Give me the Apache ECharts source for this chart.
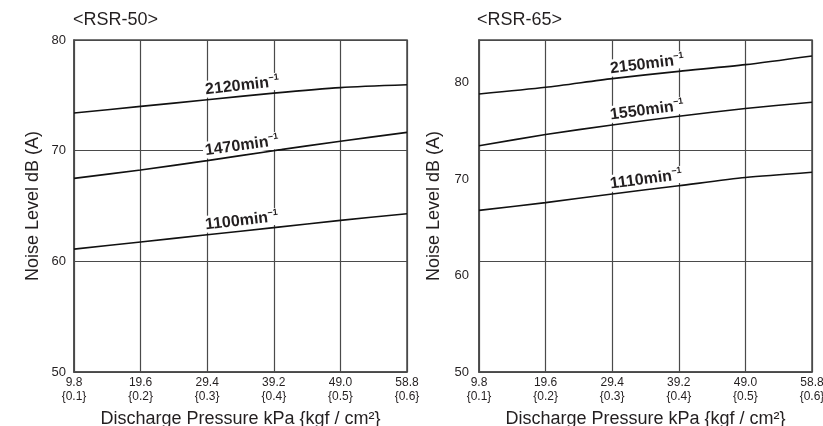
<!DOCTYPE html>
<html>
<head>
<meta charset="utf-8">
<script src="https://cdn.jsdelivr.net/npm/echarts@6/dist/echarts.min.js"></script>
<style>
html,body{margin:0;padding:0;background:#fff;}
#chart{width:823px;height:426px;}
</style>
</head>
<body>
<div id="chart"></div>
<script>
// ---- data ----
const pressureKpa = [9.8, 19.6, 29.4, 39.2, 49.0, 58.8];
const kpaLabels = ['9.8', '19.6', '29.4', '39.2', '49.0', '58.8'];
const kgfLabels = ['{0.1}', '{0.2}', '{0.3}', '{0.4}', '{0.5}', '{0.6}'];
const chartTitles = ['<RSR-50>', '<RSR-65>'];
const xAxisTitle = 'Discharge Pressure kPa {kgf / cm²}';
const yAxisTitle = 'Noise Level dB (A)';
const yTicks = [50, 60, 70, 80];

const rsr50Speeds = ['2120', '1470', '1100'];
const rsr50_2120 = [73.4, 74.0, 74.6, 75.2, 75.7, 75.95];
const rsr50_1470 = [67.5, 68.25, 69.1, 70.0, 70.85, 71.65];
const rsr50_1100 = [61.1, 61.75, 62.4, 63.05, 63.7, 64.3];

const rsr65Speeds = ['2150', '1550', '1110'];
const rsr65_2150 = [78.8, 79.5, 80.4, 81.15, 81.85, 82.75];
const rsr65_1550 = [73.45, 74.6, 75.6, 76.5, 77.3, 77.95];
const rsr65_1110 = [66.75, 67.55, 68.45, 69.3, 70.15, 70.7];

// ---- styling ----
const FONT = "'Liberation Sans', Arial, Helvetica, sans-serif";
const TXT = '#231f20';
const GRIDC = '#4a4a4a';

function xLabel(v) {
  const i = pressureKpa.findIndex(p => Math.abs(p - v) < 0.01);
  return i < 0 ? '' : kpaLabels[i] + '\n' + kgfLabels[i];
}

function makeSeries(values, speed, xi, yi, angle) {
  const data = values.map((v, i) => {
    const item = { value: [pressureKpa[i], v] };
    if (i === 2) {
      item.label = {
        show: true,
        position: 'top',
        align: 'left',
        verticalAlign: 'bottom',
        distance: 2,
        offset: [-3, 0],
        rotate: angle,
        backgroundColor: '#fff',
        padding: [0, 2, 0, 2],
        formatter: '{a|' + speed + 'min}{b|−1}',
        rich: {
          a: { fontFamily: FONT, fontSize: 16, fontWeight: 'bold', color: TXT, lineHeight: 17, verticalAlign: 'bottom' },
          b: { fontFamily: FONT, fontSize: 9, fontWeight: 'bold', color: TXT, lineHeight: 9, verticalAlign: 'top' }
        }
      };
    }
    return item;
  });
  return {
    type: 'line',
    xAxisIndex: xi,
    yAxisIndex: yi,
    data: data,
    smooth: 0.25,
    showSymbol: true,
    symbolSize: 0,
    silent: true,
    lineStyle: { color: '#111', width: 1.6 },
    itemStyle: { color: '#111' },
    label: { show: false },
    z: 3
  };
}

function xAxisDef(gi) {
  return {
    type: 'value', gridIndex: gi,
    min: 9.8, max: 58.8, interval: 9.8,
    name: xAxisTitle, nameLocation: 'middle', nameGap: 38,
    nameTextStyle: { fontFamily: FONT, fontSize: 18, color: TXT },
    axisLine: { show: true, lineStyle: { color: GRIDC, width: 1.5 } },
    axisTick: { show: false },
    splitLine: { show: true, lineStyle: { color: GRIDC, width: 1.2 } },
    axisLabel: { formatter: xLabel, fontFamily: FONT, fontSize: 12, color: TXT, lineHeight: 14, margin: 4, showMinLabel: true, showMaxLabel: true }
  };
}

const option = {
  animation: false,
  backgroundColor: '#fff',
  title: [
    { text: chartTitles[0], left: 73, top: 11, padding: 0, textStyle: { fontFamily: FONT, fontSize: 18, fontWeight: 'normal', color: TXT } },
    { text: chartTitles[1], left: 477, top: 11, padding: 0, textStyle: { fontFamily: FONT, fontSize: 18, fontWeight: 'normal', color: TXT } }
  ],
  grid: [
    { left: 74, top: 40, width: 333, height: 332, outerBoundsMode: 'none', containLabel: false, show: true, borderColor: GRIDC, borderWidth: 1.5, backgroundColor: 'transparent' },
    { left: 479, top: 40, width: 333, height: 332, outerBoundsMode: 'none', containLabel: false, show: true, borderColor: GRIDC, borderWidth: 1.5, backgroundColor: 'transparent' }
  ],
  xAxis: [xAxisDef(0), xAxisDef(1)],
  yAxis: [
    {
      type: 'value', gridIndex: 0, min: yTicks[0], max: yTicks[yTicks.length - 1], interval: 10,
      name: yAxisTitle, nameLocation: 'middle', nameGap: 32,
      nameTextStyle: { fontFamily: FONT, fontSize: 18, color: TXT },
      axisLine: { show: true, lineStyle: { color: GRIDC, width: 1.5 } },
      axisTick: { show: false },
      splitLine: { show: true, lineStyle: { color: GRIDC, width: 1.2 } },
      axisLabel: { fontFamily: FONT, fontSize: 13, color: TXT, margin: 8 }
    },
    {
      type: 'value', gridIndex: 1, min: 50, max: 84.4, interval: 10,
      name: yAxisTitle, nameLocation: 'middle', nameGap: 36,
      nameTextStyle: { fontFamily: FONT, fontSize: 18, color: TXT },
      axisLine: { show: true, lineStyle: { color: GRIDC, width: 1.5 } },
      axisTick: { show: false },
      splitLine: { show: false },
      axisLabel: {
        fontFamily: FONT, fontSize: 13, color: TXT, margin: 10, showMaxLabel: false,
        formatter: v => (yTicks.indexOf(Math.round(v * 100) / 100) >= 0 ? String(v) : '')
      }
    },
    {
      type: 'value', gridIndex: 1, min: 0, max: 3, interval: 1, position: 'left',
      axisLine: { show: false }, axisTick: { show: false }, axisLabel: { show: false },
      splitLine: { show: true, lineStyle: { color: GRIDC, width: 1.2 } }
    }
  ],
  series: [
    makeSeries(rsr50_2120, rsr50Speeds[0], 0, 0, 6.5),
    makeSeries(rsr50_1470, rsr50Speeds[1], 0, 0, 8),
    makeSeries(rsr50_1100, rsr50Speeds[2], 0, 0, 6.5),
    makeSeries(rsr65_2150, rsr65Speeds[0], 1, 1, 7),
    makeSeries(rsr65_1550, rsr65Speeds[1], 1, 1, 7.5),
    makeSeries(rsr65_1110, rsr65Speeds[2], 1, 1, 7.5)
  ]
};

const chart = echarts.init(document.getElementById('chart'), null, { renderer: 'canvas' });
chart.setOption(option);
</script>
</body>
</html>
